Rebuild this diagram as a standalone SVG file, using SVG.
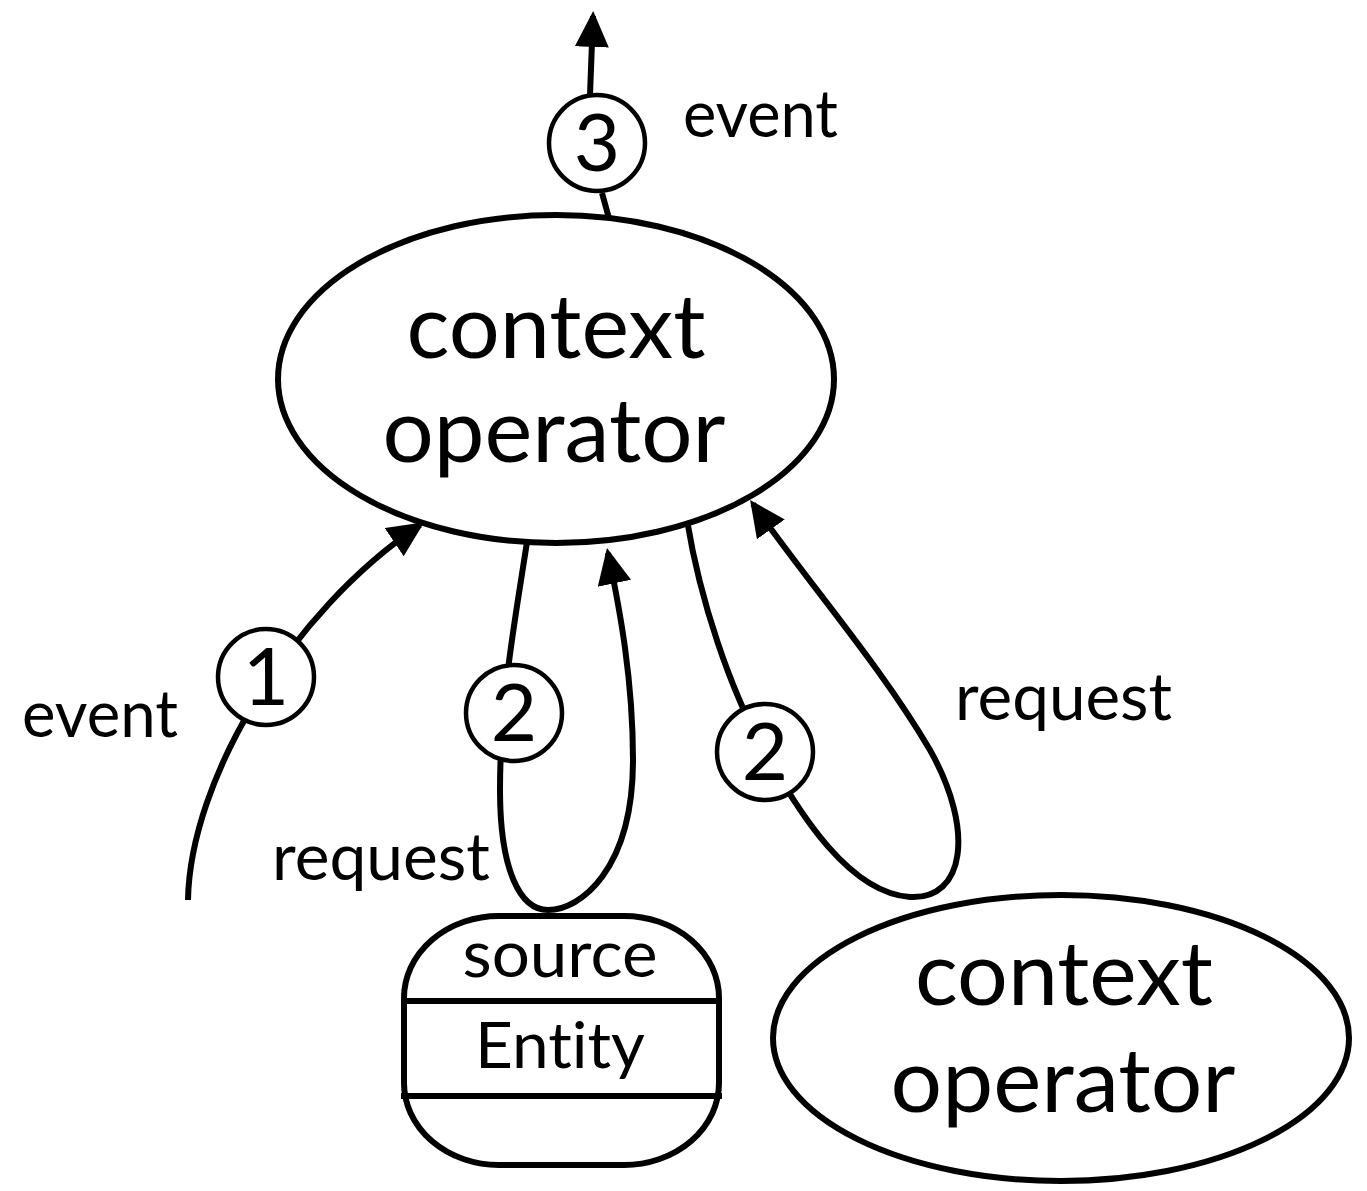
<svg xmlns="http://www.w3.org/2000/svg" width="1367" height="1191" viewBox="0 0 1367 1191">
<style>
  .shape { fill: #fff; stroke: #000; stroke-width: 6; }
  .conn { fill: none; stroke: #000; stroke-width: 6; }
  .badge { fill: #fff; stroke: #000; stroke-width: 4.5; }
  text { font-family: Lato, "Open Sans", "Liberation Sans", sans-serif; fill: #000; font-variant-ligatures: none; }
  .big { font-size: 90px; text-anchor: middle; }
  .lbl { font-size: 66px; }
  .num { font-size: 80px; text-anchor: middle; }
  .ent { font-size: 64px; text-anchor: middle; }
</style>
<defs>
  <marker id="arrow" markerUnits="userSpaceOnUse" markerWidth="40" markerHeight="40" refX="31" refY="17" orient="auto">
    <path d="M0,0 L36,17 L0,34 z" fill="#000"/>
  </marker>
</defs>
<rect width="1367" height="1191" fill="#fff"/>

<g id="connectors">
  <path class="conn" d="M610,222 L602,193"/>
  <path class="conn" d="M590,95 L593,16" marker-end="url(#arrow)"/>
  <path class="conn" d="M188,900 C190,780 290,612 420,525" marker-end="url(#arrow)"/>
  <path class="conn" d="M527,542 C515,620 500,700 500,790 C500,870 520,910 548,910 C580,910 633,870 633,760 C633,680 620,610 608,553" marker-end="url(#arrow)"/>
  <path class="conn" d="M687,520 C700,600 730,690 765,752 C800,815 850,893 910,897 C965,900 975,830 930,750 C880,665 810,585 753,504" marker-end="url(#arrow)"/>
</g>

<g id="node-context-operator-main">
  <ellipse class="shape" cx="556" cy="379" rx="278" ry="164"/>
  <text class="big" x="556" y="358" textLength="299" lengthAdjust="spacingAndGlyphs">context</text>
  <text class="big" x="554" y="462" textLength="343" lengthAdjust="spacingAndGlyphs">operator</text>
</g>

<g id="node-context-operator-2">
  <ellipse class="shape" cx="1061" cy="1038" rx="288" ry="143"/>
  <text class="big" x="1064" y="1005" textLength="298" lengthAdjust="spacingAndGlyphs">context</text>
  <text class="big" x="1063" y="1112" textLength="345" lengthAdjust="spacingAndGlyphs">operator</text>
</g>

<g id="node-source-entity">
  <rect class="shape" x="404" y="916" width="315" height="249" rx="95" ry="82"/>
  <line class="conn" x1="401" y1="1001" x2="722" y2="1001"/>
  <line class="conn" x1="401" y1="1096" x2="722" y2="1096"/>
  <text class="ent" x="560" y="977" textLength="195" lengthAdjust="spacingAndGlyphs">source</text>
  <text class="ent" x="560" y="1068" font-size="74" textLength="170" lengthAdjust="spacingAndGlyphs">Entity</text>
</g>

<g id="badge-3">
  <circle class="badge" cx="597" cy="143" r="48"/>
  <text class="num" x="597" y="171">3</text>
</g>
<g id="badge-1">
  <circle class="badge" cx="266" cy="677" r="48"/>
  <text class="num" x="266" y="705">1</text>
</g>
<g id="badge-2a">
  <circle class="badge" cx="514" cy="713" r="48"/>
  <text class="num" x="514" y="741">2</text>
</g>
<g id="badge-2b">
  <circle class="badge" cx="765" cy="752" r="48"/>
  <text class="num" x="765" y="780">2</text>
</g>

<g id="labels">
  <text class="lbl" x="683" y="137" textLength="155" lengthAdjust="spacingAndGlyphs">event</text>
  <text class="lbl" x="22" y="737" textLength="156" lengthAdjust="spacingAndGlyphs">event</text>
  <text class="lbl" x="272" y="880" textLength="218" lengthAdjust="spacingAndGlyphs">request</text>
  <text class="lbl" x="955" y="720" textLength="217" lengthAdjust="spacingAndGlyphs">request</text>
</g>
</svg>
